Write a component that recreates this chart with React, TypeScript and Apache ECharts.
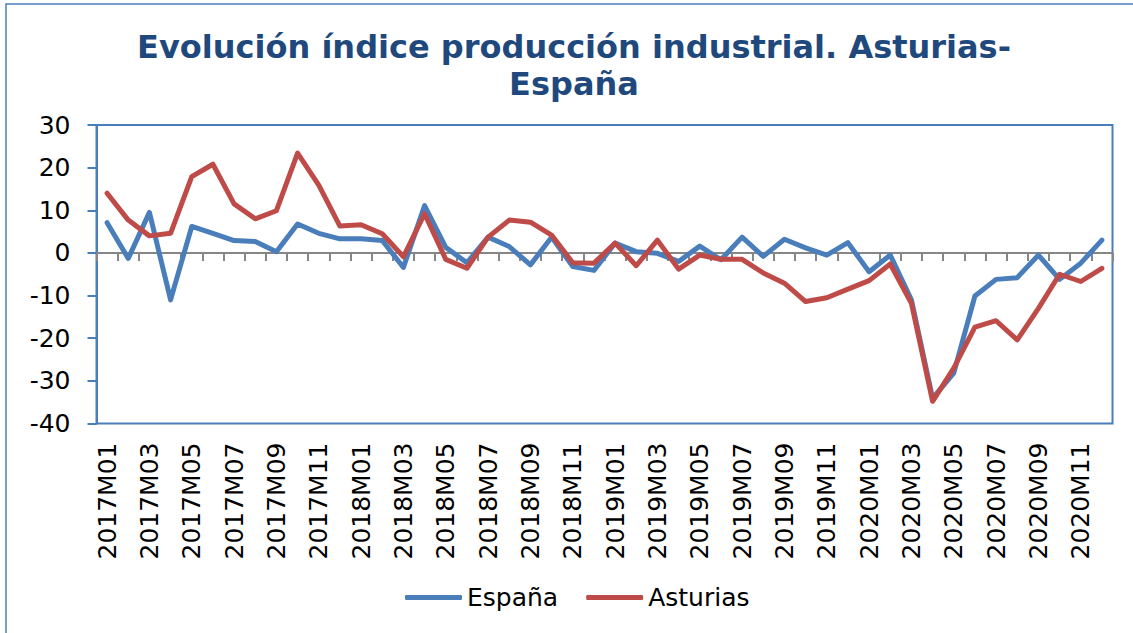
import React, { useEffect, useRef } from "react";
import * as echarts from "echarts";

const years = ["2017", "2018", "2019", "2020"];
const months = ["01", "02", "03", "04", "05", "06", "07", "08", "09", "10", "11", "12"];
const categories: string[] = [];
years.forEach((y) => months.forEach((m) => categories.push(`${y}M${m}`)));

const espana = [
  7.1, -1.3, 9.5, -11.0, 6.2, 4.6, 2.9, 2.7, 0.3, 6.8, 4.6, 3.3,
  3.3, 2.9, -3.4, 11.1, 1.3, -2.3, 3.7, 1.5, -2.8, 3.7, -3.2, -4.1,
  2.3, 0.3, -0.1, -2.0, 1.6, -1.6, 3.7, -0.8, 3.2, 1.2, -0.5, 2.4,
  -4.4, -0.5, -11.0, -34.1, -28.2, -10.1, -6.2, -5.8, -0.5, -6.2, -2.4, 3.0,
];

const asturias = [
  14.0, 7.7, 4.0, 4.6, 17.9, 20.8, 11.5, 8.0, 9.9, 23.4, 15.9, 6.3,
  6.6, 4.5, -0.9, 9.2, -1.5, -3.6, 3.7, 7.7, 7.2, 4.2, -2.3, -2.4,
  2.3, -3.0, 3.0, -3.8, -0.5, -1.5, -1.5, -4.7, -7.1, -11.4, -10.5, -8.5,
  -6.5, -2.6, -11.8, -34.8, -27.0, -17.4, -15.9, -20.4, -13.0, -5.0, -6.7, -3.6,
];

const titleLine1 = "Evolución índice producción industrial. Asturias-";
const titleLine2 = "España";

const BLUE = "#4A7EBB";
const RED = "#BE4B48";
const FONT = "DejaVu Sans";

export default function App() {
  const ref = useRef<HTMLDivElement>(null);
  useEffect(() => {
    if (!ref.current) return;
    const chart = echarts.init(ref.current, undefined, { renderer: "svg" });
    chart.setOption({
      animation: false,
      backgroundColor: "#ffffff",
      graphic: [
        {
          type: "rect",
          shape: { x: 6, y: 4, width: 1160, height: 660 },
          style: { fill: "none", stroke: BLUE, lineWidth: 1.5 },
          silent: true,
          z: 0,
        },
        {
          type: "text",
          x: 574,
          y: 47,
          style: {
            text: titleLine1,
            font: `bold 32px '${FONT}'`,
            fill: "#1F497D",
            textAlign: "center",
            textVerticalAlign: "middle",
          },
        },
        {
          type: "text",
          x: 574,
          y: 84,
          style: {
            text: titleLine2,
            font: `bold 32px '${FONT}'`,
            fill: "#1F497D",
            textAlign: "center",
            textVerticalAlign: "middle",
          },
        },
      ],
      grid: {
        left: 96.5,
        right: 20.5,
        top: 125,
        bottom: 209.5,
        show: true,
        borderColor: BLUE,
        borderWidth: 2,
        backgroundColor: "transparent",
      },
      legend: {
        top: 580,
        left: 400,
        itemWidth: 57,
        itemHeight: 5,
        itemGap: 28,
        icon: "roundRect",
        textStyle: { fontFamily: FONT, fontSize: 25, color: "#000" },
        data: ["España", "Asturias"],
      },
      xAxis: [
        {
          type: "category",
          data: categories,
          boundaryGap: true,
          position: "bottom",
          axisLine: { show: false, onZero: false },
          axisTick: { show: false },
          axisLabel: {
            interval: 1,
            rotate: 90,
            margin: 19,
            fontFamily: FONT,
            fontSize: 25,
            color: "#000",
          },
          splitLine: { show: false },
        },
        {
          type: "category",
          data: categories,
          boundaryGap: true,
          position: "bottom",
          axisLine: { show: true, onZero: true, lineStyle: { color: "#868686", width: 2 } },
          axisTick: { show: true, interval: 0, length: 8, inside: false, lineStyle: { color: "#868686", width: 2 } },
          axisLabel: { show: false },
          splitLine: { show: false },
        },
      ],
      yAxis: {
        type: "value",
        min: -40,
        max: 30,
        interval: 10,
        axisLine: { show: true, lineStyle: { color: BLUE, width: 2 } },
        axisTick: { show: true, length: 9, inside: false, lineStyle: { color: BLUE, width: 2 } },
        axisLabel: { margin: 26, fontFamily: FONT, fontSize: 25, color: "#000" },
        splitLine: { show: false },
      },
      series: [
        {
          name: "España",
          type: "line",
          data: espana,
          symbol: "none",
          color: BLUE,
          lineStyle: { color: BLUE, width: 5, cap: "round", join: "round" },
          z: 3,
        },
        {
          name: "Asturias",
          type: "line",
          data: asturias,
          symbol: "none",
          color: RED,
          lineStyle: { color: RED, width: 5, cap: "round", join: "round" },
          z: 4,
        },
      ],
    });
    return () => chart.dispose();
  }, []);
  return (
    <div
      ref={ref}
      style={{ position: "fixed", left: 0, top: 0, width: 1133, height: 633 }}
    />
  );
}
